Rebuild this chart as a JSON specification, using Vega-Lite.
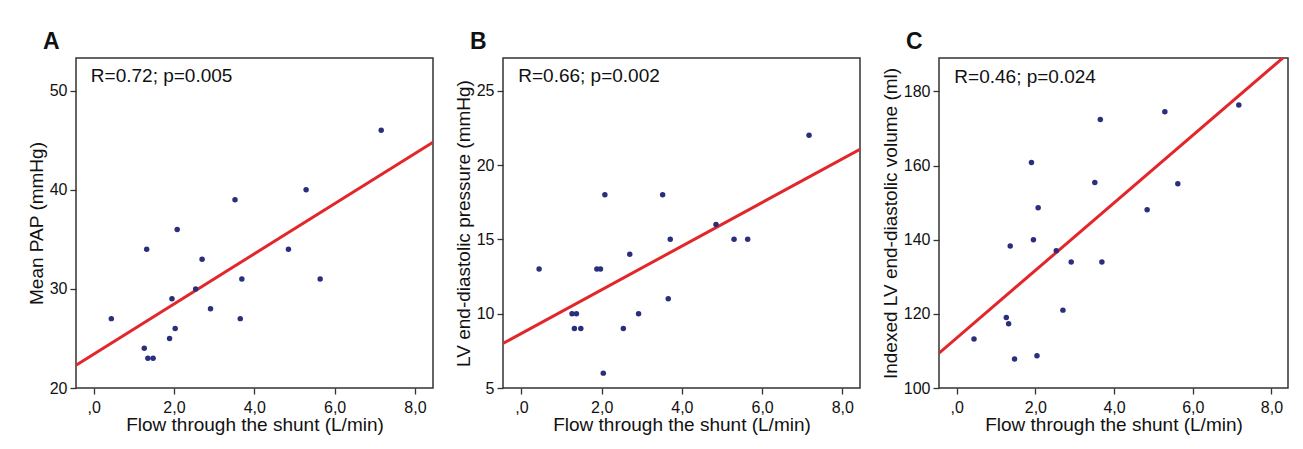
{
  "$schema": "https://vega.github.io/schema/vega-lite/v6.json",
  "padding": {"left": 26, "top": 30, "right": 0, "bottom": 0},
  "background": "white",
  "spacing": 19,
  "datasets": {
    "ptsA": [
      {"flow": 0.44, "pap": 27}, {"flow": 1.26, "pap": 24}, {"flow": 1.35, "pap": 23}, {"flow": 1.48, "pap": 23},
      {"flow": 1.32, "pap": 34}, {"flow": 1.89, "pap": 25}, {"flow": 1.95, "pap": 29}, {"flow": 2.03, "pap": 26},
      {"flow": 2.08, "pap": 36}, {"flow": 2.54, "pap": 30}, {"flow": 2.70, "pap": 33}, {"flow": 2.91, "pap": 28},
      {"flow": 3.52, "pap": 39}, {"flow": 3.65, "pap": 27}, {"flow": 3.69, "pap": 31}, {"flow": 4.85, "pap": 34},
      {"flow": 5.29, "pap": 40}, {"flow": 5.64, "pap": 31}, {"flow": 7.16, "pap": 46}
    ],
    "fitA": [{"flow": -0.44, "pap": 22.3}, {"flow": 8.45, "pap": 44.8}],
    "noteA": [{"label": "R=0.72; p=0.005"}],
    "ptsB": [
      {"flow": 0.44, "lvedp": 13}, {"flow": 1.26, "lvedp": 10}, {"flow": 1.37, "lvedp": 10}, {"flow": 1.32, "lvedp": 9},
      {"flow": 1.48, "lvedp": 9}, {"flow": 1.88, "lvedp": 13}, {"flow": 1.97, "lvedp": 13}, {"flow": 2.04, "lvedp": 6},
      {"flow": 2.08, "lvedp": 18}, {"flow": 2.54, "lvedp": 9}, {"flow": 2.70, "lvedp": 14}, {"flow": 2.92, "lvedp": 10},
      {"flow": 3.52, "lvedp": 18}, {"flow": 3.66, "lvedp": 11}, {"flow": 3.71, "lvedp": 15}, {"flow": 4.85, "lvedp": 16},
      {"flow": 5.30, "lvedp": 15}, {"flow": 5.64, "lvedp": 15}, {"flow": 7.17, "lvedp": 22}
    ],
    "fitB": [{"flow": -0.46, "lvedp": 8.0}, {"flow": 8.44, "lvedp": 21.06}],
    "noteB": [{"label": "R=0.66; p=0.002"}],
    "ptsC": [
      {"flow": 0.44, "lvedv": 113.2}, {"flow": 1.26, "lvedv": 119.0}, {"flow": 1.32, "lvedv": 117.3}, {"flow": 1.36, "lvedv": 138.3},
      {"flow": 1.47, "lvedv": 107.8}, {"flow": 1.90, "lvedv": 160.8}, {"flow": 1.95, "lvedv": 140.0}, {"flow": 2.04, "lvedv": 108.7},
      {"flow": 2.07, "lvedv": 148.6}, {"flow": 2.53, "lvedv": 137.0}, {"flow": 2.70, "lvedv": 121.0}, {"flow": 2.91, "lvedv": 134.0},
      {"flow": 3.51, "lvedv": 155.4}, {"flow": 3.65, "lvedv": 172.4}, {"flow": 3.69, "lvedv": 134.0}, {"flow": 4.84, "lvedv": 148.1},
      {"flow": 5.29, "lvedv": 174.5}, {"flow": 5.62, "lvedv": 155.1}, {"flow": 7.17, "lvedv": 176.3}
    ],
    "fitC": [{"flow": -0.45, "lvedv": 109.4}, {"flow": 8.42, "lvedv": 190.2}],
    "noteC": [{"label": "R=0.46; p=0.024"}]
  },
  "hconcat": [
    {
      "width": 357, "height": 330,
      "title": {"text": "A", "anchor": "start", "frame": "group", "fontSize": 23, "fontWeight": "bold", "dx": -33, "offset": -14, "baseline": "alphabetic", "color": "#111"},
      "layer": [
        {"data": {"name": "fitA"}, "mark": {"type": "line", "color": "#e3262a", "strokeWidth": 3, "clip": true},
         "encoding": {
           "x": {"field": "flow", "type": "quantitative", "scale": {"domain": [-0.44, 8.45], "nice": false, "zero": false},
                 "axis": {"title": "Flow through the shunt (L/min)", "values": [0, 2, 4, 6, 8], "labelExpr": "datum.value == 0 ? ',0' : replace(format(datum.value, '.1f'), '.', ',')"}},
           "y": {"field": "pap", "type": "quantitative", "scale": {"domain": [20, 53.3], "nice": false, "zero": false},
                 "axis": {"title": "Mean PAP (mmHg)", "values": [20, 30, 40, 50], "format": "d"}}
         }},
        {"data": {"name": "ptsA"}, "mark": {"type": "point", "filled": true, "size": 30, "color": "#2a2e7c", "opacity": 1},
         "encoding": {
           "x": {"field": "flow", "type": "quantitative",
                 "axis": {"title": "Flow through the shunt (L/min)", "values": [0, 2, 4, 6, 8], "labelExpr": "datum.value == 0 ? ',0' : replace(format(datum.value, '.1f'), '.', ',')"}},
           "y": {"field": "pap", "type": "quantitative",
                 "axis": {"title": "Mean PAP (mmHg)", "values": [20, 30, 40, 50], "format": "d"}}
         }},
        {"data": {"name": "noteA"}, "mark": {"type": "text", "align": "left", "baseline": "middle", "fontSize": 19, "color": "#111"},
         "encoding": {"x": {"datum": -0.07, "type": "quantitative"}, "y": {"datum": 51.5, "type": "quantitative"}, "text": {"field": "label"}}}
      ]
    },
    {
      "width": 357, "height": 330,
      "title": {"text": "B", "anchor": "start", "frame": "group", "fontSize": 23, "fontWeight": "bold", "dx": -33, "offset": -14, "baseline": "alphabetic", "color": "#111"},
      "layer": [
        {"data": {"name": "fitB"}, "mark": {"type": "line", "color": "#e3262a", "strokeWidth": 3, "clip": true},
         "encoding": {
           "x": {"field": "flow", "type": "quantitative", "scale": {"domain": [-0.46, 8.44], "nice": false, "zero": false},
                 "axis": {"title": "Flow through the shunt (L/min)", "values": [0, 2, 4, 6, 8], "labelExpr": "datum.value == 0 ? ',0' : replace(format(datum.value, '.1f'), '.', ',')"}},
           "y": {"field": "lvedp", "type": "quantitative", "scale": {"domain": [5, 27.2], "nice": false, "zero": false},
                 "axis": {"title": "LV end-diastolic pressure (mmHg)", "values": [5, 10, 15, 20, 25], "format": "d"}}
         }},
        {"data": {"name": "ptsB"}, "mark": {"type": "point", "filled": true, "size": 30, "color": "#2a2e7c", "opacity": 1},
         "encoding": {
           "x": {"field": "flow", "type": "quantitative",
                 "axis": {"title": "Flow through the shunt (L/min)", "values": [0, 2, 4, 6, 8], "labelExpr": "datum.value == 0 ? ',0' : replace(format(datum.value, '.1f'), '.', ',')"}},
           "y": {"field": "lvedp", "type": "quantitative",
                 "axis": {"title": "LV end-diastolic pressure (mmHg)", "values": [5, 10, 15, 20, 25], "format": "d"}}
         }},
        {"data": {"name": "noteB"}, "mark": {"type": "text", "align": "left", "baseline": "middle", "fontSize": 19, "color": "#111"},
         "encoding": {"x": {"datum": -0.08, "type": "quantitative"}, "y": {"datum": 26.0, "type": "quantitative"}, "text": {"field": "label"}}}
      ]
    },
    {
      "width": 349, "height": 330,
      "title": {"text": "C", "anchor": "start", "frame": "group", "fontSize": 23, "fontWeight": "bold", "dx": -33, "offset": -14, "baseline": "alphabetic", "color": "#111"},
      "layer": [
        {"data": {"name": "fitC"}, "mark": {"type": "line", "color": "#e3262a", "strokeWidth": 3, "clip": true},
         "encoding": {
           "x": {"field": "flow", "type": "quantitative", "scale": {"domain": [-0.45, 8.42], "nice": false, "zero": false},
                 "axis": {"title": "Flow through the shunt (L/min)", "values": [0, 2, 4, 6, 8], "labelExpr": "datum.value == 0 ? ',0' : replace(format(datum.value, '.1f'), '.', ',')"}},
           "y": {"field": "lvedv", "type": "quantitative", "scale": {"domain": [100, 189], "nice": false, "zero": false},
                 "axis": {"title": "Indexed LV end-diastolic volume (ml)", "values": [100, 120, 140, 160, 180], "format": "d"}}
         }},
        {"data": {"name": "ptsC"}, "mark": {"type": "point", "filled": true, "size": 30, "color": "#2a2e7c", "opacity": 1},
         "encoding": {
           "x": {"field": "flow", "type": "quantitative",
                 "axis": {"title": "Flow through the shunt (L/min)", "values": [0, 2, 4, 6, 8], "labelExpr": "datum.value == 0 ? ',0' : replace(format(datum.value, '.1f'), '.', ',')"}},
           "y": {"field": "lvedv", "type": "quantitative",
                 "axis": {"title": "Indexed LV end-diastolic volume (ml)", "values": [100, 120, 140, 160, 180], "format": "d"}}
         }},
        {"data": {"name": "noteC"}, "mark": {"type": "text", "align": "left", "baseline": "middle", "fontSize": 19, "color": "#111"},
         "encoding": {"x": {"datum": -0.06, "type": "quantitative"}, "y": {"datum": 184.0, "type": "quantitative"}, "text": {"field": "label"}}}
      ]
    }
  ],
  "config": {
    "font": "Liberation Sans",
    "view": {"stroke": "#333", "strokeWidth": 1.5},
    "axis": {
      "domain": false, "grid": false,
      "labelFont": "Liberation Sans", "labelFontSize": 16, "labelColor": "#111",
      "titleFont": "Liberation Sans", "titleFontSize": 19, "titleFontWeight": "normal", "titleColor": "#111",
      "tickColor": "#333", "tickSize": 6, "tickWidth": 1.3,
      "labelPadding": 3, "titlePadding": 3
    },
    "axisX": {"labelPadding": 5, "titlePadding": 0}
  }
}
